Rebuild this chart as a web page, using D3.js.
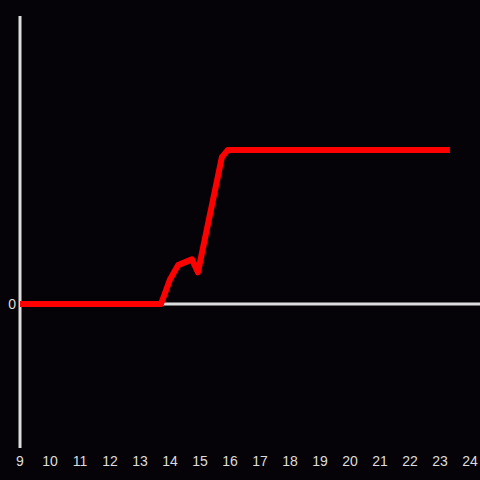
<!DOCTYPE html>
<html>
<head>
<meta charset="utf-8">
<script src="https://cdn.jsdelivr.net/npm/d3@7"></script>
<style>
  html, body { margin: 0; padding: 0; background: #050307; }
  svg { display: block; }
</style>
</head>
<body>
<div id="chart"></div>
<script>
// hour of day and level
const hours = [9, 13.7, 14.0, 14.27, 14.73, 14.93, 15.73, 15.93, 23.33];
const levels = [0, 0, 0.17, 0.27, 0.31, 0.22, 1.02, 1.07, 1.07];
const xTicks = d3.range(9, 25);

const width = 480, height = 480;

const svg = d3.select('#chart')
  .append('svg')
  .attr('width', width)
  .attr('height', height);

svg.append('rect')
  .attr('width', width)
  .attr('height', height)
  .attr('fill', '#050307');

const x = d3.scaleLinear().domain([9, 24]).range([20, 470]);
const y = d3.scaleLinear().domain([-1, 2]).range([448, 16]);

// y axis line
svg.append('line')
  .attr('x1', x(9)).attr('x2', x(9))
  .attr('y1', y(2)).attr('y2', y(-1))
  .attr('stroke', '#dddddd')
  .attr('stroke-width', 3);

// zero line
svg.append('line')
  .attr('x1', x(9)).attr('x2', width)
  .attr('y1', y(0)).attr('y2', y(0))
  .attr('stroke', '#dddddd')
  .attr('stroke-width', 3);

// zero label
svg.append('text')
  .attr('x', 16)
  .attr('y', y(0))
  .attr('dy', '0.35em')
  .attr('text-anchor', 'end')
  .attr('fill', '#dddddd')
  .style('font', '14px "Liberation Sans", Arial, sans-serif')
  .text('0');

// x tick labels
svg.selectAll('.xlabel')
  .data(xTicks)
  .enter()
  .append('text')
  .attr('class', 'xlabel')
  .attr('x', d => x(d))
  .attr('y', 461)
  .attr('dy', '0.35em')
  .attr('text-anchor', 'middle')
  .attr('fill', '#dddddd')
  .style('font', '14px "Liberation Sans", Arial, sans-serif')
  .text(d => d);

const pts = hours.map((h, i) => [h, levels[i]]);
const line = d3.line()
  .x(d => x(d[0]))
  .y(d => y(d[1]));

svg.append('path')
  .datum(pts)
  .attr('d', line)
  .attr('fill', 'none')
  .attr('stroke', '#ff0000')
  .attr('stroke-width', 6)
  .attr('stroke-linejoin', 'round');
</script>
</body>
</html>
